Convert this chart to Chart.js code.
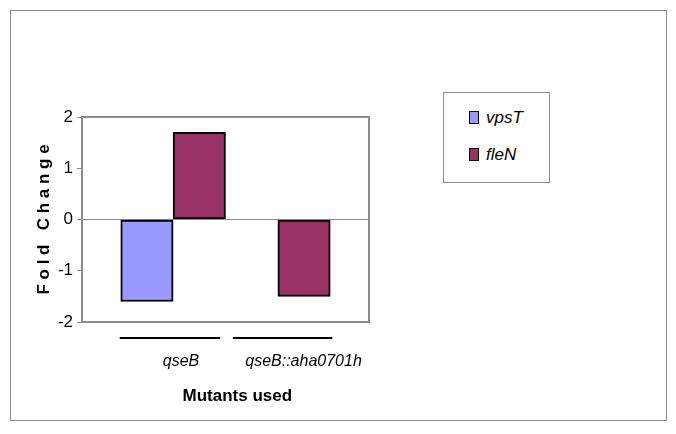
<!DOCTYPE html>
<html>
<head>
<meta charset="utf-8">
<script src="https://cdn.jsdelivr.net/npm/chart.js@4.4.0/dist/chart.umd.min.js"></script>
<style>
  html, body { margin: 0; padding: 0; background: #fff; }
  #frame { position: absolute; left: 10px; top: 10px; width: 655px; height: 409px; border: 1px solid #8c8c8c; }
  #wrap { position: absolute; left: 0; top: 0; width: 676px; height: 434px; }
  #legend { position: absolute; left: 443px; top: 92px; width: 105px; height: 89px; border: 1px solid #8c8c8c; background: #fff;
            font: italic 17px 'Liberation Sans', Arial, sans-serif; }
  .item { position: absolute; left: 25px; height: 24px; line-height: 24px; white-space: nowrap; }
  .swatch { display: inline-block; width: 8px; height: 11px; border: 1px solid #000; margin-right: 7px; vertical-align: -1px; }
</style>
</head>
<body>
<div id="frame"></div>
<div id="wrap"><canvas id="chart"></canvas></div>
<div id="legend"></div>
<script>
const categories = ['qseB', 'qseB::aha0701h'];
const vpsT = [-1.6, 0];
const fleN = [1.7, -1.5];

const sans = "'Liberation Sans', Arial, sans-serif";
// small nudges so the labels sit like the original text boxes
const labelNudge = [0.075, 0.245];
const underline = [[-0.51, 0.45], [-0.43, 0.52]];

const framePlugin = {
    id: 'framePlugin',
    beforeDatasetsDraw(chart) {
        const a = chart.chartArea;
        const ctx = chart.ctx;
        ctx.save();
        ctx.strokeStyle = '#8c8c8c';
        ctx.lineWidth = 2;
        ctx.strokeRect(a.left, a.top, a.right - a.left, a.bottom - a.top);
        ctx.restore();
    },
    afterDraw(chart) {
        // the rules drawn above each group label
        const x = chart.scales.x;
        const ctx = chart.ctx;
        const y = chart.chartArea.bottom + 16;
        ctx.save();
        ctx.strokeStyle = '#000';
        ctx.lineWidth = 2;
        underline.forEach((u, i) => {
            ctx.beginPath();
            ctx.moveTo(x.getPixelForValue(i + u[0]), y);
            ctx.lineTo(x.getPixelForValue(i + u[1]), y);
            ctx.stroke();
        });
        ctx.restore();
    }
};

const chart = new Chart(document.getElementById('chart'), {
    type: 'bar',
    data: {
        datasets: [
            {
                label: 'vpsT',
                data: categories.map((c, i) => ({ x: i, y: vpsT[i] })),
                backgroundColor: '#9999ff',
                borderColor: '#000',
                borderWidth: 2,
                borderSkipped: false
            },
            {
                label: 'fleN',
                data: categories.map((c, i) => ({ x: i, y: fleN[i] })),
                backgroundColor: '#993366',
                borderColor: '#000',
                borderWidth: 2,
                borderSkipped: false
            }
        ]
    },
    options: {
        responsive: true,
        maintainAspectRatio: false,
        animation: false,
        categoryPercentage: 1,
        barPercentage: 1,
        layout: { padding: { left: 34, top: 117, right: 307, bottom: 27 } },
        plugins: {
            legend: { display: false },
            tooltip: { enabled: false }
        },
        scales: {
            x: {
                type: 'linear',
                min: -0.87,
                max: 1.87,
                offset: false,
                grid: { display: false, drawTicks: false },
                border: { display: false },
                afterBuildTicks: s => { s.ticks = categories.map((c, i) => ({ value: i + labelNudge[i] })); },
                afterFit: s => { s.height = 85; },
                ticks: {
                    padding: 30,
                    autoSkip: false,
                    maxRotation: 0,
                    color: '#000',
                    font: { family: sans, size: 16, style: 'italic' },
                    callback: (v, i) => categories[i]
                },
                title: {
                    display: true,
                    text: '     Mutants used',
                    color: '#000',
                    padding: 0,
                    font: { family: sans, size: 17, weight: 'bold' }
                }
            },
            y: {
                min: -2,
                max: 2,
                afterFit: s => { s.width = 48; },
                grid: {
                    color: c => c.tick && c.tick.value === 0 ? '#8c8c8c' : 'rgba(0,0,0,0)',
                    tickColor: '#8c8c8c',
                    tickLength: 5,
                    lineWidth: 1
                },
                border: { display: false },
                ticks: {
                    stepSize: 1,
                    padding: 4,
                    color: '#000',
                    font: { family: sans, size: 17 }
                },
                title: {
                    display: true,
                    text: 'F o l d   C h a n g e',
                    color: '#000',
                    padding: 0,
                    font: { family: sans, size: 17, weight: 'bold' }
                }
            }
        }
    },
    plugins: [framePlugin]
});

// legend box built from the chart's own datasets
const legend = document.getElementById('legend');
chart.data.datasets.forEach((ds, i) => {
    const row = document.createElement('div');
    row.className = 'item';
    row.style.top = (13 + i * 37) + 'px';
    const sw = document.createElement('span');
    sw.className = 'swatch';
    sw.style.background = ds.backgroundColor;
    row.appendChild(sw);
    row.appendChild(document.createTextNode(ds.label));
    legend.appendChild(row);
});
</script>
</body>
</html>
